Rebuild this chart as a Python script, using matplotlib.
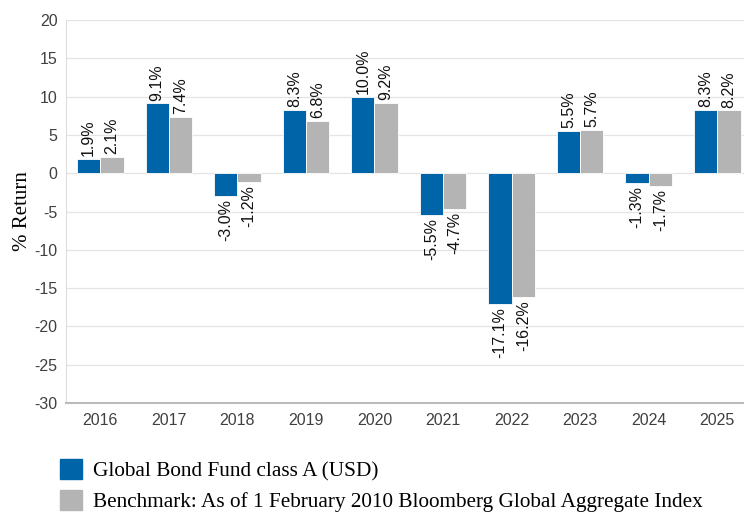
import matplotlib.pyplot as plt
import numpy as np
from matplotlib.patches import Patch

# Dados do gráfico
years = ["2016", "2017", "2018", "2019", "2020", "2021", "2022", "2023", "2024", "2025"]
fund = [1.9, 9.1, -3.0, 8.3, 10.0, -5.5, -17.1, 5.5, -1.3, 8.3]
bench = [2.1, 7.4, -1.2, 6.8, 9.2, -4.7, -16.2, 5.7, -1.7, 8.2]
series_names = ["Global Bond Fund class A (USD)",
                "Benchmark: As of 1 February 2010 Bloomberg Global Aggregate Index"]

BLUE = "#0064a8"
GRAY = "#b4b4b4"

plt.rcParams["axes.unicode_minus"] = False

fig = plt.figure(figsize=(7.44, 5.16), dpi=100)
ax = fig.add_axes([66 / 744, 1 - 403 / 516, 1 - 66 / 744, (403 - 20) / 516])

x = np.arange(len(years))
w = 0.34
b1 = ax.bar(x - w / 2, fund, w, color=BLUE, edgecolor="white", linewidth=0.6, zorder=2)
b2 = ax.bar(x + w / 2, bench, w, color=GRAY, edgecolor="white", linewidth=0.6, zorder=2)

# Rótulos das barras
for bars, vals in ((b1, fund), (b2, bench)):
    for rect, v in zip(bars, vals):
        cx = rect.get_x() + rect.get_width() / 2
        ax.annotate(f"{v:.1f}%", (cx, v), xytext=(0, 2 if v >= 0 else -2),
                    textcoords="offset points", rotation=90, ha="center",
                    va="bottom" if v >= 0 else "top", fontsize=11.5,
                    family="Liberation Sans", color="#111111")

ax.set_ylim(-30, 20)
ax.set_yticks(range(-30, 21, 5))
ax.set_xlim(-0.5, 9.39)
ax.set_xticks(x)
ax.set_xticklabels(years)
ax.tick_params(axis="both", length=0, labelsize=11.5, colors="#404040")
for lbl in ax.get_xticklabels() + ax.get_yticklabels():
    lbl.set_family("Liberation Sans")
ax.tick_params(axis="x", pad=7)
ax.tick_params(axis="y", pad=6)

ax.grid(axis="y", color="#e4e4e4", linewidth=0.9, zorder=0)
ax.set_axisbelow(True)
for s in ("top", "right"):
    ax.spines[s].set_visible(False)
ax.spines["left"].set_color("#dddddd")
ax.spines["bottom"].set_color("#bbbbbb")
ax.spines["bottom"].set_linewidth(1.5)

ax.set_ylabel("% Return", family="Liberation Serif", fontsize=15, labelpad=2)

handles = [Patch(color=BLUE), Patch(color=GRAY)]
fig.legend(handles, series_names, loc="upper left",
           bbox_to_anchor=(60 / 744, 1 - 459 / 516), frameon=False,
           prop={"family": "Liberation Serif", "size": 15.3},
           handlelength=1.05, handleheight=1.05, handletextpad=0.5,
           labelspacing=0.42, borderpad=0, borderaxespad=0)

plt.savefig("out.png", dpi=100)
plt.close()
